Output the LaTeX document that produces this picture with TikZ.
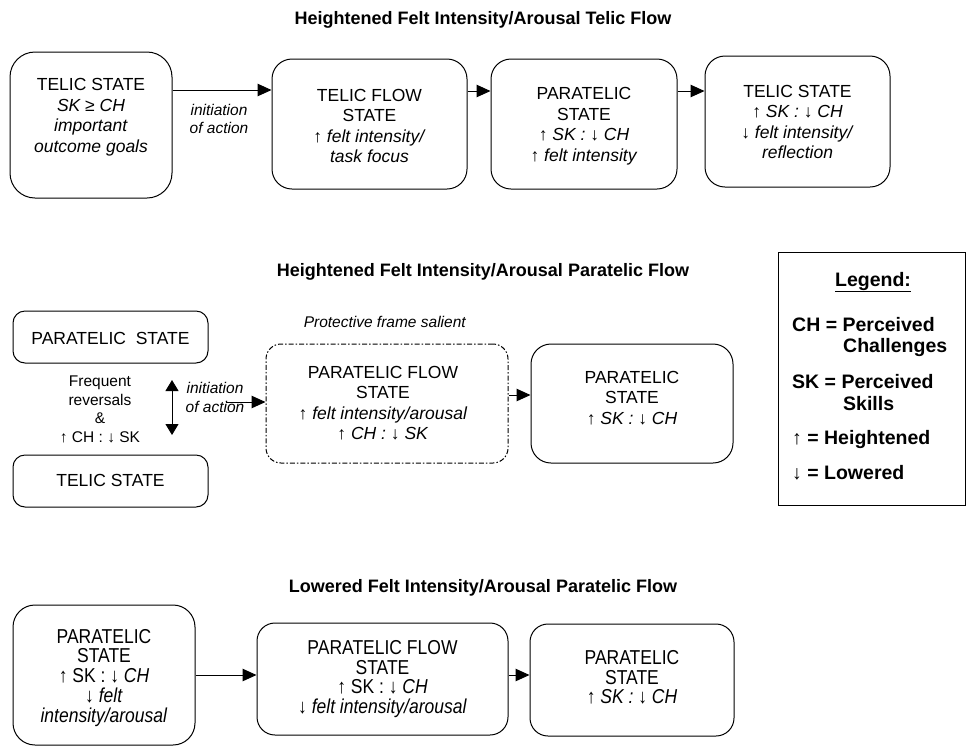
\documentclass[tikz,border=0pt]{standalone}
\usepackage{fontspec}
\setmainfont{Liberation Sans}
\usetikzlibrary{arrows.meta}
\newcommand{\tallstack}[1]{\scalebox{1}[1.15]{\fontsize{17.5}{15.9}\selectfont\begin{tabular}{@{}c@{}}#1\end{tabular}}}
\begin{document}
\begin{tikzpicture}[x=1pt,y=-1pt,
  box/.style={draw, line width=1pt, rounded corners=#1, inner sep=0pt},
  box/.default=20pt,
  dbox/.style={box=#1, dash pattern=on 5pt off 2pt on 1.5pt off 2pt},
  txt/.style={align=center, inner sep=0pt, font=\fontsize{17.5}{20.5}\selectfont},
  ltxt/.style={inner sep=0pt},
  small/.style={align=center, inner sep=0pt, font=\fontsize{15.5}{18.5}\selectfont},
  ttl/.style={inner sep=0pt, font=\bfseries\fontsize{18}{21}\selectfont},
  leg/.style={inner sep=0pt, anchor=west, font=\bfseries\fontsize{19.5}{22}\selectfont},
  arr/.style={line width=1pt, -{Triangle[length=14pt,width=12.5pt]}},
  darr/.style={line width=1pt, {Triangle[length=11pt,width=13pt]}-{Triangle[length=11pt,width=13pt]}}
]
\useasboundingbox (0,0) rectangle (967,748);

% ---------- Top row ----------
\node[ttl] (t1) at (483,20) {Heightened Felt Intensity/Arousal Telic Flow};

\node[box=25pt, minimum width=162pt, minimum height=146pt] (a1) at (91,125) {};
\node[txt] (a1t) at (91,117) {TELIC STATE\\\textit{SK ≥ CH}\\\textit{important}\\\textit{outcome goals}};

\node[box=20pt, minimum width=195pt, minimum height=130pt] (a2) at (369.5,124) {};
\node[txt] (a2t) at (369.5,126) {TELIC FLOW\\STATE\\↑ \textit{felt intensity/}\\\textit{task focus}};

\node[box=20pt, minimum width=186pt, minimum height=130pt] (a3) at (584,124) {};
\node[txt] (a3t) at (584,126) {PARATELIC\\STATE\\↑ \textit{SK :} ↓ \textit{CH}\\↑ \textit{felt intensity}};

\node[box=20pt, minimum width=185pt, minimum height=131pt] (a4) at (797.5,121.5) {};
\node[txt] (a4t) at (797.5,122) {TELIC STATE\\↑ \textit{SK :} ↓ \textit{CH}\\↓ \textit{felt intensity/}\\\textit{reflection}};

\coordinate (ya) at (0,90);
\coordinate (yb) at (0,91);
\draw[arr] (a1.east |- ya) -- (a2.west |- ya);
\draw[arr] (a2.east |- yb) -- (a3.west |- yb);
\draw[arr] (a3.east |- yb) -- (a4.west |- yb);
\node[small] (lab1) at (219,119) {\textit{initiation}\\\textit{of action}};

% ---------- Middle row ----------
\node[ttl] (t2) at (483,272) {Heightened Felt Intensity/Arousal Paratelic Flow};

\node[box=12pt, minimum width=195pt, minimum height=52pt] (b1) at (110.5,337) {};
\node[txt] (b1t) at (110.5,338) {PARATELIC\ \ STATE};
\node[box=12pt, minimum width=195pt, minimum height=52pt] (b2) at (110.5,481) {};
\node[txt] (b2t) at (110.5,480) {TELIC STATE};

\node[small] (fr) at (100,409.5) {Frequent\\reversals\\\&\\↑ CH : ↓ SK};

\coordinate (dtop) at (172,380);
\coordinate (dbot) at (172,435);
\draw[darr] (dtop) -- (dbot);

\node[small] (lab2) at (215,397.5) {\textit{initiation}\\\textit{of action}};

\node[dbox=15pt, minimum width=242pt, minimum height=119pt] (b3) at (387,403.5) {};
\node[txt] (b3t) at (383,403) {PARATELIC FLOW\\STATE\\↑ \textit{felt intensity/arousal}\\↑ \textit{CH :} ↓ \textit{SK}};
\node[small] (pf) at (385,322) {\textit{Protective frame salient}};

\coordinate (ia) at (226,402);
\draw[arr] (ia) -- (b3.west |- ia);

\node[box=20pt, minimum width=202pt, minimum height=119pt] (b4) at (632,403.5) {};
\node[txt] (b4t) at (632,398) {PARATELIC\\STATE\\↑ \textit{SK :} ↓ \textit{CH}};

\coordinate (yc) at (0,395);
\draw[arr] (b3.east |- yc) -- (b4.west |- yc);

% Legend
\node[draw, line width=1pt, inner sep=0pt, minimum width=187pt, minimum height=253pt] (lg) at (871.5,378.5) {};
\node[inner sep=0pt, font=\bfseries\fontsize{19.5}{22}\selectfont] (lgt) at (873,282) {\underline{Legend:}};
\node[leg] (l1) at (792,325) {CH = Perceived};
\node[leg] (l2) at (843,347) {Challenges};
\node[leg] (l3) at (792,382) {SK = Perceived};
\node[leg] (l4) at (843,404) {Skills};
\node[leg] (l5) at (792,439) {↑ = Heightened};
\node[leg] (l6) at (792,473) {↓ = Lowered};

% ---------- Bottom row ----------
\node[ttl] (t3) at (483,588) {Lowered Felt Intensity/Arousal Paratelic Flow};

\node[box=22pt, minimum width=182pt, minimum height=140pt] (c1) at (104,675) {};
\node[ltxt] (c1t) at (104,678.5) {\tallstack{PARATELIC\\STATE\\↑ SK : ↓ \textit{CH}\\↓ \textit{felt}\\\textit{intensity/arousal}}};

\node[box=18pt, minimum width=251pt, minimum height=112pt] (c2) at (382.5,679) {};
\node[ltxt] (c2t) at (382.5,680) {\tallstack{PARATELIC FLOW\\STATE\\↑ SK : ↓ \textit{CH}\\↓ \textit{felt intensity/arousal}}};

\node[box=18pt, minimum width=204pt, minimum height=112pt] (c3) at (632,680) {};
\node[ltxt] (c3t) at (632,680) {\tallstack{PARATELIC\\STATE\\↑ \textit{SK :} ↓ \textit{CH}}};

\coordinate (yd) at (0,675);
\draw[arr] (c1.east |- yd) -- (c2.west |- yd);
\draw[arr] (c2.east |- yd) -- (c3.west |- yd);
\end{tikzpicture}
\end{document}
